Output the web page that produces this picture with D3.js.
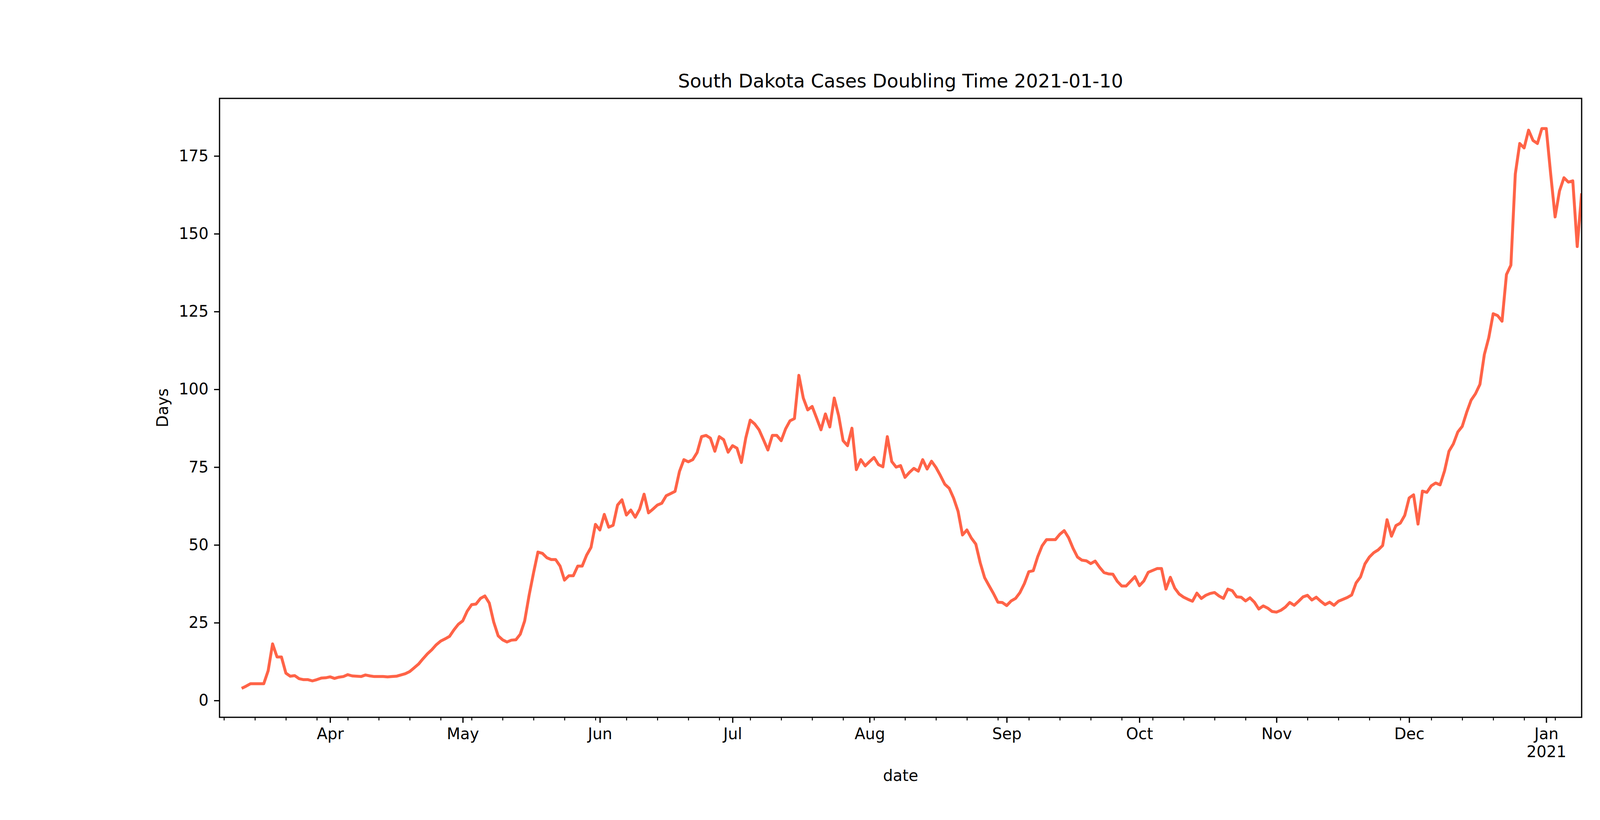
<!DOCTYPE html>
<html>
<head>
<meta charset="utf-8">
<script src="https://cdn.jsdelivr.net/npm/d3@7"></script>
<style>
  body { margin: 0; background: #fff; }
  text { font-family: "DejaVu Sans", sans-serif; }
</style>
</head>
<body>
<div id="chart"></div>
<script>
// daily doubling time values, first value is 2020-03-12
var startDate = "2020-03-12";
var days = [
  3.9, 4.6, 5.4, 5.4, 5.4, 5.4, 9.6, 18.2, 14, 14,
  8.8, 7.8, 8.0, 7.0, 6.7, 6.7, 6.3, 6.7, 7.2, 7.3,
  7.6, 7.1, 7.5, 7.7, 8.3, 7.9, 7.8, 7.7, 8.2, 7.9,
  7.7, 7.7, 7.7, 7.6, 7.7, 7.8, 8.2, 8.6, 9.3, 10.5,
  11.7, 13.4, 15, 16.3, 17.9, 19.1, 19.8, 20.6, 22.7, 24.5,
  25.6, 28.7, 30.8, 31, 32.8, 33.6, 31.3, 25.2, 20.8, 19.5,
  18.8, 19.4, 19.5, 21.3, 25.6, 33.8, 41, 47.7, 47.3, 45.9,
  45.3, 45.3, 43.2, 38.7, 40.1, 40.1, 43.2, 43.2, 46.7, 49.2,
  56.6, 54.8, 59.8, 55.7, 56.3, 62.8, 64.5, 59.6, 61.2, 58.9,
  61.5, 66.3, 60.3, 61.5, 62.8, 63.4, 65.8, 66.5, 67.2, 73.6,
  77.4, 76.7, 77.4, 79.7, 84.8, 85.2, 84.3, 80.1, 84.8, 83.8,
  79.8, 81.9, 81.1, 76.5, 84.4, 90.1, 88.9, 87, 83.8, 80.5,
  85.2, 85.2, 83.5, 87.3, 89.9, 90.6, 104.5, 97.2, 93.4, 94.5,
  90.8, 87, 92.1, 87.9, 97.2, 91.5, 83.5, 81.9, 87.5, 74.2,
  77.4, 75.4, 76.8, 78.1, 75.8, 75.1, 84.8, 76.8, 75, 75.5,
  71.7, 73.3, 74.6, 73.7, 77.4, 74.4, 76.9, 74.9, 72.3, 69.5,
  68.2, 65, 60.8, 53.2, 54.8, 52.2, 50.3, 44.3, 39.5, 36.9,
  34.4, 31.6, 31.5, 30.5, 32, 32.8, 34.7, 37.6, 41.4, 41.7,
  46.2, 49.7, 51.7, 51.7, 51.7, 53.4, 54.6, 52.3, 48.9, 46.1,
  45.1, 44.9, 44, 44.8, 42.8, 41.1, 40.7, 40.6, 38.3, 36.8,
  36.8, 38.3, 39.8, 36.9, 38.4, 41.2, 41.8, 42.4, 42.4, 35.8,
  39.6, 36.1, 34.2, 33.2, 32.5, 31.9, 34.5, 32.8, 33.8, 34.4,
  34.7, 33.6, 32.8, 35.8, 35.3, 33.3, 33.2, 32, 33, 31.6,
  29.4, 30.4, 29.7, 28.6, 28.4, 29, 30, 31.5, 30.6, 31.9,
  33.3, 33.8, 32.3, 33.2, 31.9, 30.8, 31.6, 30.6, 31.9, 32.5,
  33.1, 33.9, 37.8, 39.7, 43.9, 46.1, 47.5, 48.4, 49.8, 58.1,
  52.8, 56.2, 57, 59.5, 65.1, 66.1, 56.7, 67.3, 66.9, 69,
  69.9, 69.3, 73.8, 80.1, 82.5, 86.3, 88.1, 92.6, 96.5, 98.6,
  101.6, 111.2, 116.6, 124.3, 123.7, 121.9, 136.9, 139.9, 169.2, 179,
  177.6, 183.3, 180, 179, 183.8, 183.8, 169.2, 155.4, 163.8, 168,
  166.6, 167, 145.9, 163
];
var yTicks = [0, 25, 50, 75, 100, 125, 150, 175];
var xStart = "2020-03-07", xEnd = "2021-01-09";

var parse = d3.timeParse("%Y-%m-%d");
var t0 = parse(startDate);
var data = days.map(function(v, i) { return {date: d3.timeDay.offset(t0, i), value: v}; });

var W = 4500, H = 2100;
var margin = {top: 252, right: 451, bottom: 263, left: 562};
var width = W - margin.left - margin.right,
    height = H - margin.top - margin.bottom;

var svg = d3.select("#chart").append("svg")
    .attr("width", W).attr("height", H);
var g = svg.append("g")
    .attr("transform", "translate(" + margin.left + "," + margin.top + ")");

var x = d3.scaleTime().domain([parse(xStart), parse(xEnd)]).range([0, width]);
var y = d3.scaleLinear().domain([-5.4, 193.5]).range([height, 0]);

// clip so the line stops at the frame
g.append("clipPath").attr("id", "clip")
  .append("rect").attr("width", width).attr("height", height);

// line
g.append("path")
    .datum(data)
    .attr("clip-path", "url(#clip)")
    .attr("fill", "none")
    .attr("stroke", "#ff6347")
    .attr("stroke-width", 7.5)
    .attr("stroke-linejoin", "round")
    .attr("d", d3.line().x(d => x(d.date)).y(d => y(d.value)));

// minor ticks (weekly, Sundays)
var xMinor = g.append("g")
    .attr("transform", "translate(0," + height + ")")
    .call(d3.axisBottom(x).ticks(d3.timeSunday.every(1)).tickSize(8).tickFormat(""));
xMinor.select(".domain").remove();
xMinor.selectAll("line").attr("stroke-width", 2.4);

// major ticks at month starts
var xAxis = g.append("g")
    .attr("transform", "translate(0," + height + ")")
    .call(d3.axisBottom(x).ticks(d3.timeMonth.every(1)).tickSize(14).tickPadding(14)
      .tickFormat(function(d) { return d3.timeFormat("%b")(d); }));
xAxis.select(".domain").remove();
xAxis.selectAll("line").attr("stroke-width", 3.2);
xAxis.selectAll("text").attr("font-size", 40).attr("font-family", "DejaVu Sans")
    .each(function(d) {
      if (d.getMonth() === 0) {
        d3.select(this).append("tspan").attr("x", 0).attr("dy", "1.15em").text(d.getFullYear());
      }
    });

var yAxis = g.append("g")
    .call(d3.axisLeft(y).tickValues(yTicks).tickSize(14).tickPadding(14));
yAxis.select(".domain").remove();
yAxis.selectAll("line").attr("stroke-width", 3.2);
yAxis.selectAll("text").attr("font-size", 40).attr("font-family", "DejaVu Sans");

// frame
g.append("rect")
    .attr("width", width).attr("height", height)
    .attr("fill", "none").attr("stroke", "#000").attr("stroke-width", 3.2);

// labels
svg.append("text")
    .attr("x", margin.left + width / 2).attr("y", 224)
    .attr("text-anchor", "middle").attr("font-size", 48)
    .text("South Dakota Cases Doubling Time 2021-01-10");

svg.append("text")
    .attr("x", margin.left + width / 2).attr("y", 2000)
    .attr("text-anchor", "middle").attr("font-size", 40)
    .text("date");

svg.append("text")
    .attr("transform", "translate(430," + (margin.top + height / 2) + ") rotate(-90)")
    .attr("text-anchor", "middle").attr("font-size", 40)
    .text("Days");
</script>
</body>
</html>
